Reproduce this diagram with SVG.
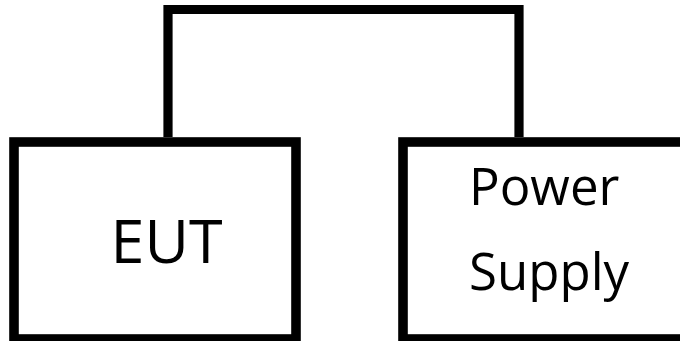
<svg xmlns="http://www.w3.org/2000/svg" width="680" height="341" viewBox="0 0 680 341">
  <style>
    .box { fill: #ffffff; stroke: #000000; stroke-width: 9.6; }
    .wire { fill: none; stroke: #000000; stroke-width: 9.2; stroke-linejoin: miter; }
    .label { font-family: "Open Sans", "Noto Sans", sans-serif; fill: #000000; }
  </style>
  <rect x="0" y="0" width="680" height="341" fill="#ffffff"/>
  <g id="connectors">
    <path class="wire" d="M168,137 V9.5 H519 V137"/>
  </g>
  <g id="eut">
    <rect class="box" x="14" y="142" width="282" height="197"/>
    <text class="label" x="166.5" y="262.7" font-size="61" text-anchor="middle">EUT</text>
  </g>
  <g id="power-supply">
    <rect class="box" x="403" y="142" width="300" height="197"/>
    <text class="label" x="469" y="205" font-size="51">Power</text>
    <text class="label" x="469" y="290" font-size="51">Supply</text>
  </g>
</svg>
